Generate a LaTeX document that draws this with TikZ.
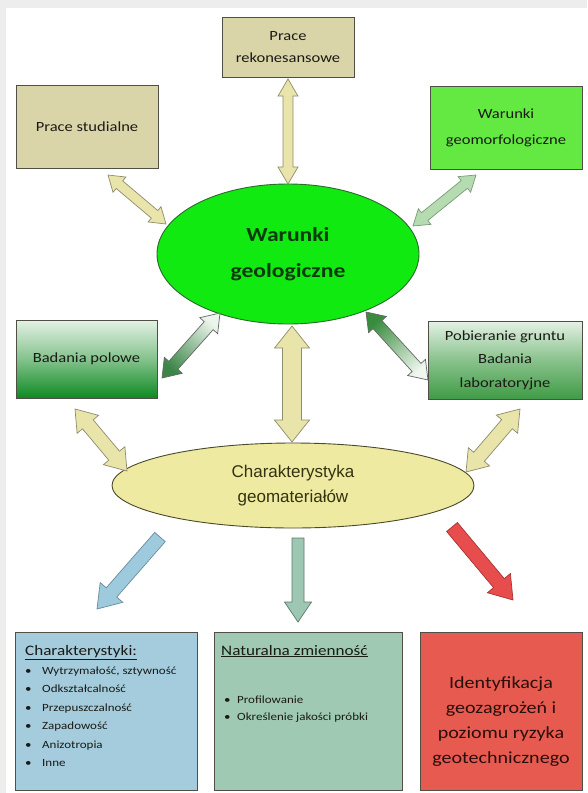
\documentclass[tikz,border=0pt]{standalone}
\usepackage{fontspec}
\setmainfont{Carlito}[FakeStretch=1.18]
\newfontfamily\charfont{Liberation Sans}
\usetikzlibrary{calc,shapes.geometric}

\definecolor{khaki}{HTML}{DAD5A8}
\definecolor{boxedge}{HTML}{4F4F45}
\definecolor{txt}{HTML}{1A1A16}
\definecolor{geomorf}{HTML}{63E942}
\definecolor{geofill}{HTML}{10EA10}
\definecolor{geoedge}{HTML}{2A6A2A}
\definecolor{geotxt}{HTML}{0B3A0B}
\definecolor{charfill}{HTML}{EEEAA2}
\definecolor{charedge}{HTML}{4A4A2A}
\definecolor{chartxt}{HTML}{33330F}
\definecolor{bluebox}{HTML}{A4CCDC}
\definecolor{greenbox}{HTML}{9FC9B2}
\definecolor{redbox}{HTML}{E65A4F}
\definecolor{redtxtc}{HTML}{2A0E0C}
\definecolor{arrkhaki}{HTML}{E8E4AA}
\definecolor{arrkedge}{HTML}{8E8C6E}
\definecolor{arrgeo}{HTML}{B4DCB0}
\definecolor{arrgeoedge}{HTML}{7A9A78}
\definecolor{arrblue}{HTML}{9DCBDD}
\definecolor{arrblueedge}{HTML}{6A8A9A}
\definecolor{arrteal}{HTML}{9DC7B3}
\definecolor{arrtealedge}{HTML}{5A7A6A}
\definecolor{arrred}{HTML}{E84D4D}
\definecolor{arrrededge}{HTML}{A83232}
\definecolor{gdark}{HTML}{0E8A22}
\definecolor{gmid}{HTML}{3F9B45}
\definecolor{glight}{HTML}{E4F1E4}
\definecolor{bggray}{HTML}{EDEDED}

% double block arrow: style, A, B, half shaft, half head, head length
\newcommand\dblarrow[6]{%
 \path[#1] (#2)
 -- ($ ($(#2)!#6!(#3)$)!#5!90:(#3) $)
 -- ($ ($(#2)!#6!(#3)$)!#4!90:(#3) $)
 -- ($ ($(#3)!#6!(#2)$)!#4!-90:(#2) $)
 -- ($ ($(#3)!#6!(#2)$)!#5!-90:(#2) $)
 -- (#3)
 -- ($ ($(#3)!#6!(#2)$)!#5!90:(#2) $)
 -- ($ ($(#3)!#6!(#2)$)!#4!90:(#2) $)
 -- ($ ($(#2)!#6!(#3)$)!#4!-90:(#3) $)
 -- ($ ($(#2)!#6!(#3)$)!#5!-90:(#3) $)
 -- cycle;}
% single block arrow
\newcommand\sglarrow[6]{%
 \path[#1] ($(#2)!#4!90:(#3)$)
 -- ($ ($(#3)!#6!(#2)$)!#4!-90:(#2) $)
 -- ($ ($(#3)!#6!(#2)$)!#5!-90:(#2) $)
 -- (#3)
 -- ($ ($(#3)!#6!(#2)$)!#5!90:(#2) $)
 -- ($ ($(#3)!#6!(#2)$)!#4!90:(#2) $)
 -- ($(#2)!#4!-90:(#3)$)
 -- cycle;}

\tikzset{
 box/.style={draw=boxedge, line width=0.9pt, inner sep=0pt, align=center, text=txt,
   font=\fontsize{14}{22}\selectfont},
 bigbox/.style={draw=boxedge, line width=1pt, inner sep=0pt},
 khakiarrow/.style={fill=arrkhaki, draw=arrkedge, line width=0.7pt, line join=miter},
 geoarrow/.style={fill=arrgeo, draw=arrgeoedge, line width=0.7pt},
 headtxt/.style={anchor=base west, inner sep=0pt, text=txt, font=\fontsize{14.5}{16}\selectfont},
 itemtxt/.style={anchor=base west, inner sep=0pt, text=txt, font=\fontsize{11}{14}\selectfont},
}

\begin{document}
\begin{tikzpicture}[x=1pt,y=-1pt]
\useasboundingbox (0,0) rectangle (587,793);
\fill[bggray] (0,0) rectangle (587,793);
\fill[white] (6,8) rectangle (587,793);

% boxes
\node[box, fill=khaki, minimum width=132pt, minimum height=60pt] (rek) at (288,47) {Prace\\rekonesansowe};
\node[box, fill=khaki, minimum width=142pt, minimum height=83pt] (stud) at (87,126.5) {Prace studialne};
\node[box, fill=geomorf, minimum width=152pt, minimum height=83pt, font=\fontsize{14}{26}\selectfont] (geomorf) at (506,127.5) {Warunki\\geomorfologiczne};
\node[box, top color=glight, bottom color=gdark, middle color=gdark!45!glight, minimum width=141pt, minimum height=78pt] (polowe) at (86.5,359) {Badania polowe};
\node[box, top color=glight, bottom color=gmid, middle color=gmid!55!glight, minimum width=154pt, minimum height=78pt, font=\fontsize{14}{23.5}\selectfont] (pob) at (505,360) {Pobieranie gruntu\\Badania\\laboratoryjne};

\node[ellipse, draw=geoedge, line width=0.9pt, fill=geofill, minimum width=262pt, minimum height=140pt, inner sep=0pt,
  align=center, text=geotxt, font=\bfseries\fontsize{20}{36}\selectfont] (geo) at (288,254) {Warunki\\geologiczne};
\node[ellipse, draw=charedge, line width=0.9pt, fill=charfill, minimum width=362pt, minimum height=85pt, inner sep=0pt,
  align=center, text=chartxt, font=\charfont\fontsize{17}{25}\selectfont] (char) at (293,485.5) {Charakterystyka\\geomateriałów};

\node[bigbox, fill=bluebox, minimum width=182pt, minimum height=158pt] (blue) at (106,711) {};
\node[bigbox, fill=greenbox, minimum width=188pt, minimum height=158pt] (green) at (308,711) {};
\node[bigbox, fill=redbox, minimum width=162pt, minimum height=158pt] (red) at (501,711) {};
\node[align=center, inner sep=0pt, text=redtxtc, font=\fontsize{17}{25}\selectfont] (redtxt) at (501,722)
  {Identyfikacja\\geozagrożeń i\\poziomu ryzyka\\geotechnicznego};

% texts in the bottom boxes
\node[headtxt] (bluehead) at (25,655) {\underline{Charakterystyki:}};
\foreach \t [count=\i] in {{Wytrzymałość, sztywność}, Odkształcalność, Przepuszczalność, Zapadowość, Anizotropia, Inne}{
  \node[itemtxt] (bi\i) at (25,{674+18.5*(\i-1)}) {\makebox[17pt][l]{•}\t};
}
\node[headtxt] (greenhead) at (221,655) {\underline{Naturalna zmienność}};
\node[itemtxt] (gi1) at (224,703) {\makebox[13pt][l]{•}Profilowanie};
\node[itemtxt] (gi2) at (224,720) {\makebox[13pt][l]{•}Określenie jakości próbki};

% arrow end points
\coordinate (a1) at (288,79);   \coordinate (a2) at (288,184);
\coordinate (b1) at (108,175);  \coordinate (b2) at (166,224);
\coordinate (c1) at (476,175);  \coordinate (c2) at (413,226);
\coordinate (d1) at (162,378);  \coordinate (d2) at (220,313);
\coordinate (e1) at (428,380);  \coordinate (e2) at (366,312);
\coordinate (f1) at (292,326);  \coordinate (f2) at (292,442);
\coordinate (g1) at (75,409);   \coordinate (g2) at (127,471);
\coordinate (h1) at (520,409);  \coordinate (h2) at (466,472);
\coordinate (i1) at (160,537);  \coordinate (i2) at (97,609);
\coordinate (j1) at (298,538);  \coordinate (j2) at (298,622);
\coordinate (k1) at (452,527);  \coordinate (k2) at (513,600);

\dblarrow{khakiarrow}{a1}{a2}{5pt}{10pt}{17pt}
\dblarrow{khakiarrow}{b1}{b2}{5pt}{10pt}{15pt}
\dblarrow{geoarrow}{c1}{c2}{5pt}{10pt}{15pt}
\dblarrow{draw=gray!80!black, line width=0.7pt, top color=glight!70!white, bottom color=gdark!60!gray, shading angle=-42}{d1}{d2}{6pt}{12pt}{17pt}
\dblarrow{draw=gray!80!black, line width=0.7pt, top color=gmid!90!black, bottom color=glight!60!white, shading angle=42}{e1}{e2}{6pt}{12pt}{17pt}
\dblarrow{khakiarrow}{f1}{f2}{9.5pt}{17.5pt}{22pt}
\dblarrow{khakiarrow}{g1}{g2}{7pt}{14pt}{20pt}
\dblarrow{khakiarrow}{h1}{h2}{7pt}{14pt}{20pt}
\sglarrow{fill=arrblue, draw=arrblueedge, line width=0.7pt}{i1}{i2}{7pt}{15pt}{22pt}
\sglarrow{fill=arrteal, draw=arrtealedge, line width=0.7pt}{j1}{j2}{6pt}{13.5pt}{20pt}
\sglarrow{fill=arrred, draw=arrrededge, line width=0.7pt}{k1}{k2}{7pt}{15pt}{22pt}
\end{tikzpicture}
\end{document}
